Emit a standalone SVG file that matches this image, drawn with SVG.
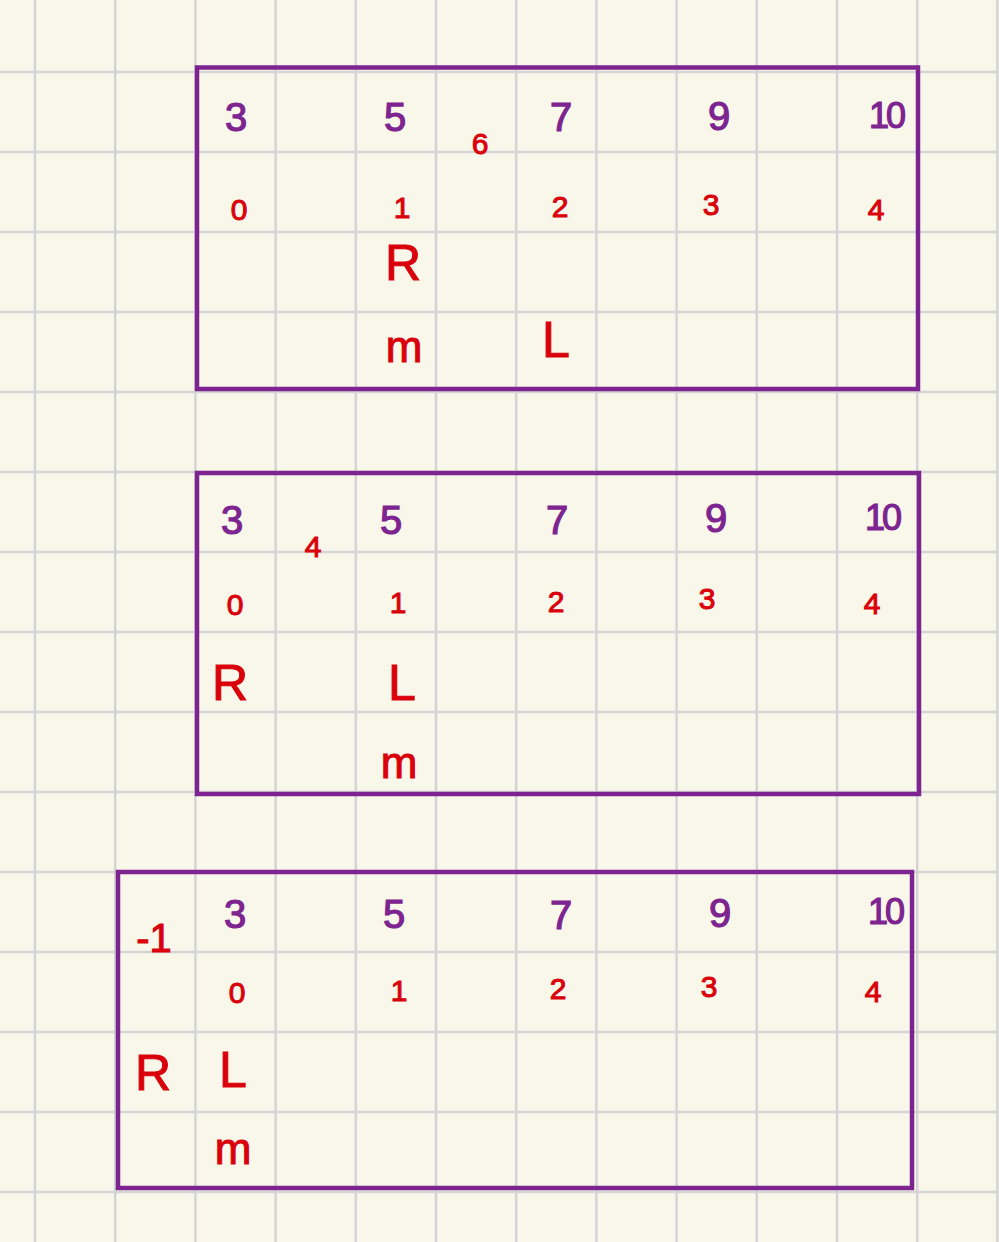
<svg xmlns="http://www.w3.org/2000/svg" width="999" height="1242" viewBox="0 0 999 1242">
<style>
.g{stroke:#d4d4d4;stroke-width:2.5;fill:none}
.box{fill:none;stroke:#7d2490;stroke-width:4.5}
text{font-family:"Liberation Sans","DejaVu Sans",sans-serif;text-anchor:middle;dominant-baseline:central}
.p{fill:#7d2490;stroke:#7d2490;stroke-width:1.2;font-size:40px}
.t{font-size:36px;letter-spacing:-3px}
.r{fill:#d9000c;stroke:#d9000c;stroke-width:1;font-size:30px}
.rb{fill:#d9000c;stroke:#d9000c;stroke-width:1;font-size:50px}
.m{font-size:44px}
</style>
<rect width="999" height="1242" fill="#f8f7ea"/>
<g id="grid">
<path class="g" d="M35 0V1242M115.2 0V1242M195.4 0V1242M275.6 0V1242M355.8 0V1242M436 0V1242M516.2 0V1242M596.4 0V1242M676.6 0V1242M756.8 0V1242M837 0V1242M917.2 0V1242M997.4 0V1242"/>
<path class="g" d="M0 72H999M0 152H999M0 232H999M0 312H999M0 392H999M0 472H999M0 552H999M0 632H999M0 712H999M0 792H999M0 872H999M0 952H999M0 1032H999M0 1112H999M0 1192H999"/>
</g>
<g id="box1">
<rect class="box" x="197" y="67.5" width="721" height="321.5"/>
<text class="p" x="236" y="117">3</text>
<text class="p" x="395" y="117">5</text>
<text class="r" x="480" y="143">6</text>
<text class="p" x="561" y="117">7</text>
<text class="p" x="719" y="116">9</text>
<text class="p t" x="886" y="115">10</text>
<text class="r" x="239" y="209">0</text>
<text class="r" x="402" y="207">1</text>
<text class="r" x="560" y="206">2</text>
<text class="r" x="711" y="204">3</text>
<text class="r" x="876" y="209">4</text>
<text class="rb" x="403" y="263">R</text>
<text class="rb m" x="404" y="346">m</text>
<text class="rb" x="556" y="340">L</text>
</g>
<g id="box2">
<rect class="box" x="197" y="473" width="722" height="321"/>
<text class="p" x="232" y="520">3</text>
<text class="r" x="313" y="546">4</text>
<text class="p" x="391" y="520">5</text>
<text class="p" x="557" y="520">7</text>
<text class="p" x="716" y="518">9</text>
<text class="p t" x="882" y="517">10</text>
<text class="r" x="235" y="604">0</text>
<text class="r" x="398" y="602">1</text>
<text class="r" x="556" y="601">2</text>
<text class="r" x="707" y="598">3</text>
<text class="r" x="872" y="603">4</text>
<text class="rb" x="230" y="683">R</text>
<text class="rb" x="402" y="683">L</text>
<text class="rb m" x="399" y="762">m</text>
</g>
<g id="box3">
<rect class="box" x="118" y="872" width="794" height="316"/>
<text class="r" x="154" y="938" style="font-size:40px">-1</text>
<text class="p" x="235" y="914">3</text>
<text class="p" x="394" y="914">5</text>
<text class="p" x="561" y="915">7</text>
<text class="p" x="720" y="913">9</text>
<text class="p t" x="885" y="911">10</text>
<text class="r" x="237" y="992">0</text>
<text class="r" x="399" y="990">1</text>
<text class="r" x="558" y="988">2</text>
<text class="r" x="709" y="986">3</text>
<text class="r" x="873" y="991">4</text>
<text class="rb" x="153" y="1073">R</text>
<text class="rb" x="233" y="1070">L</text>
<text class="rb m" x="233" y="1148">m</text>
</g>
<g id="connectors"/>
</svg>
